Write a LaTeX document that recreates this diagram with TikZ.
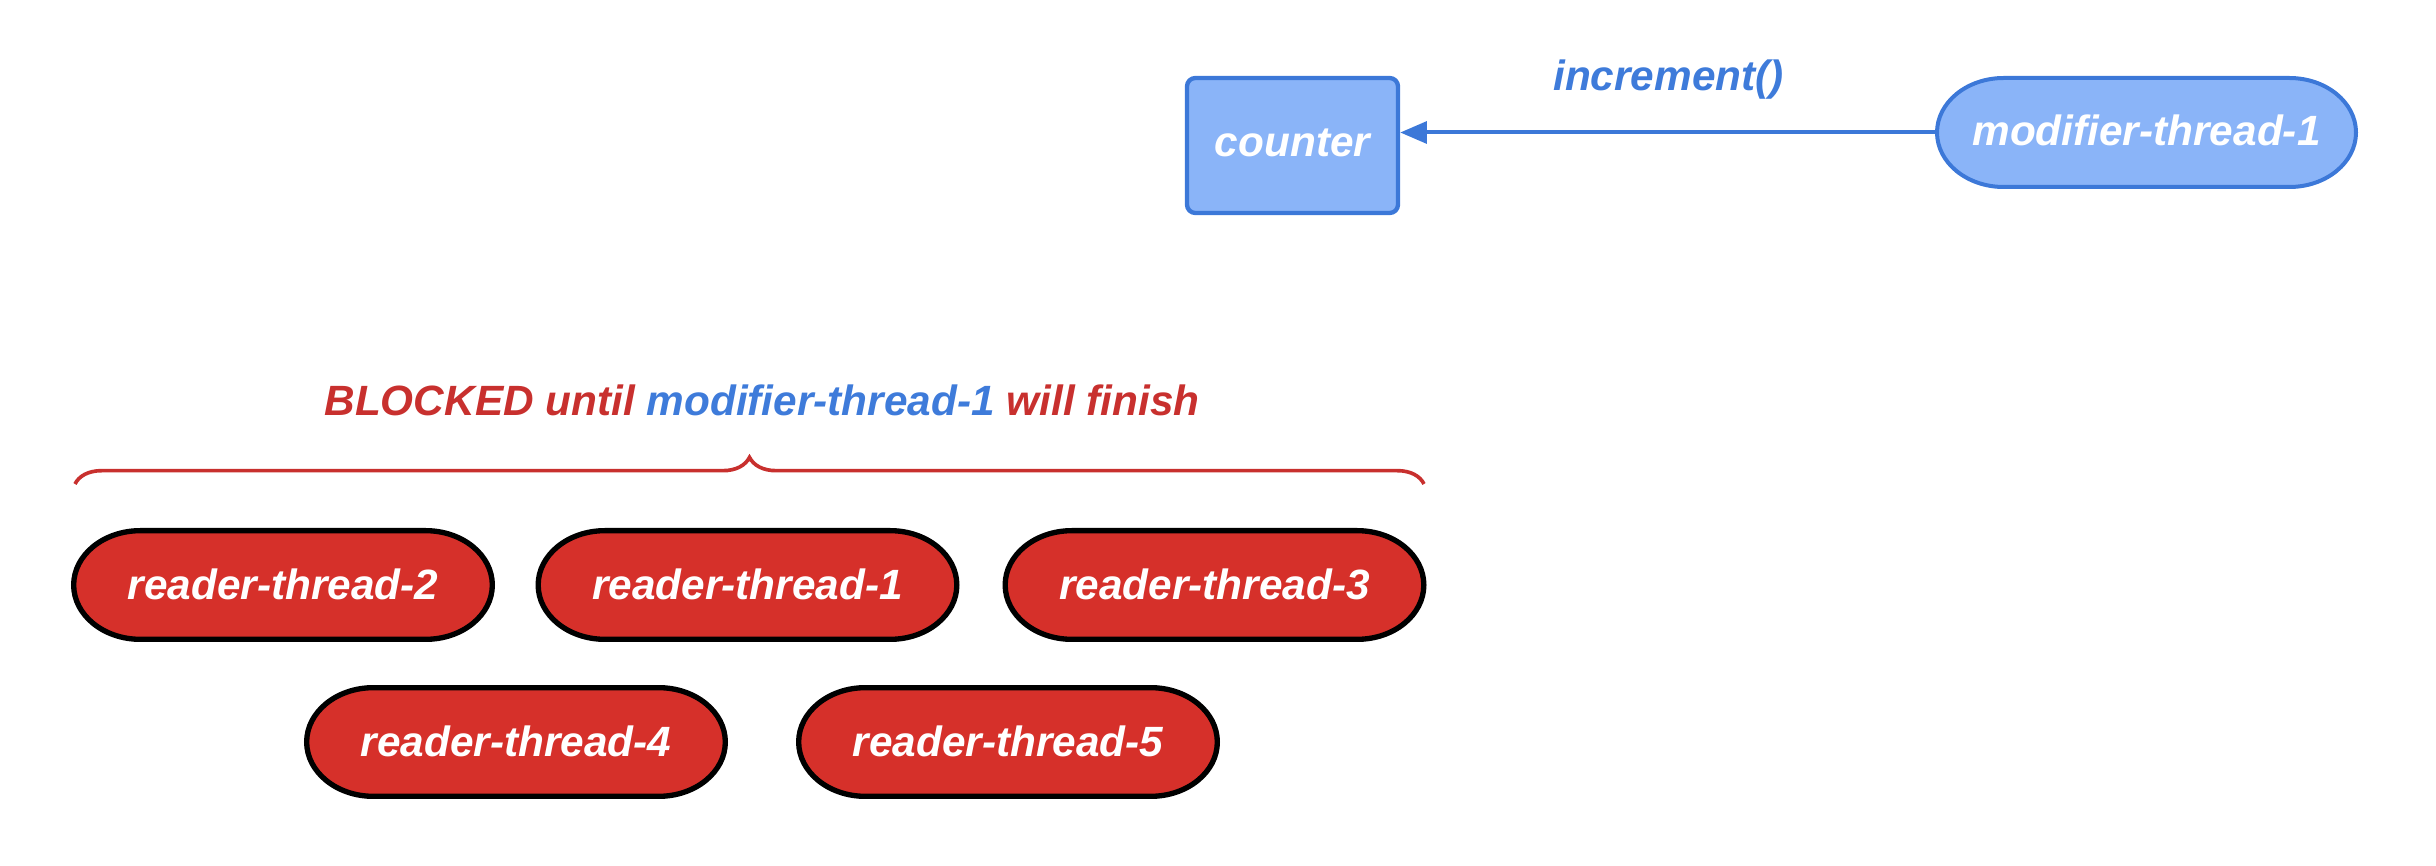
\documentclass[tikz,border=0pt]{standalone}
\usepackage{fontspec}
\setmainfont{Liberation Sans}
\usetikzlibrary{arrows.meta,decorations.pathreplacing}
\definecolor{boxblue}{HTML}{8AB4F8}
\definecolor{lineblue}{HTML}{3C78D8}
\definecolor{textblue}{HTML}{3E7BDA}
\definecolor{fillred}{HTML}{D6302A}
\definecolor{capred}{HTML}{C8302E}
\makeatletter
\pgfdeclareshape{ovalpill}{%
  \inheritsavedanchors[from=rectangle]%
  \inheritanchorborder[from=rectangle]%
  \inheritanchor[from=rectangle]{center}%
  \inheritanchor[from=rectangle]{north}%
  \inheritanchor[from=rectangle]{south}%
  \inheritanchor[from=rectangle]{east}%
  \inheritanchor[from=rectangle]{west}%
  \inheritanchor[from=rectangle]{north east}%
  \inheritanchor[from=rectangle]{north west}%
  \inheritanchor[from=rectangle]{south east}%
  \inheritanchor[from=rectangle]{south west}%
  \inheritanchor[from=rectangle]{text}%
  \inheritanchor[from=rectangle]{base}%
  \inheritanchor[from=rectangle]{mid}%
  \backgroundpath{%
    \southwest \pgf@xa=\pgf@x \pgf@ya=\pgf@y
    \northeast \pgf@xb=\pgf@x \pgf@yb=\pgf@y
    \pgf@yc=\pgf@yb \advance\pgf@yc by -\pgf@ya \pgf@yc=.5\pgf@yc
    \pgf@xc=20pt
    \pgfutil@tempdima=\pgf@xa \advance\pgfutil@tempdima by \pgf@xc
    \pgfutil@tempdimb=\pgf@xb \advance\pgfutil@tempdimb by -\pgf@xc
    \edef\pill@l{\the\pgfutil@tempdima}%
    \edef\pill@r{\the\pgfutil@tempdimb}%
    \edef\pill@t{\the\pgf@yb}%
    \edef\pill@b{\the\pgf@ya}%
    \edef\pill@rx{\the\pgf@xc}%
    \edef\pill@ry{\the\pgf@yc}%
    \pgfpathmoveto{\pgfqpoint{\pill@l}{\pill@t}}%
    \pgfpathlineto{\pgfqpoint{\pill@r}{\pill@t}}%
    \pgfpatharc{90}{-90}{\pill@rx and \pill@ry}%
    \pgfpathlineto{\pgfqpoint{\pill@l}{\pill@b}}%
    \pgfpatharc{270}{90}{\pill@rx and \pill@ry}%
    \pgfpathclose
  }%
}
\makeatother
\begin{document}
\begin{tikzpicture}[x=0.3pt,y=-0.3pt,
  lbl/.style={font=\fontsize{12.7}{15}\selectfont\bfseries\itshape},
  bluebox/.style={lbl, draw=lineblue, fill=boxblue, line width=1.3pt, rounded corners=2.5pt,
    text=white, minimum width=63.3pt, minimum height=40.5pt, inner sep=0pt},
  bluepill/.style={lbl, shape=ovalpill, draw=lineblue, fill=boxblue, line width=1.2pt,
    text=white, minimum width=124.5pt, minimum height=31.5pt, inner sep=0pt},
  redpill/.style={lbl, shape=ovalpill, draw=black, fill=fillred, line width=1.6pt,
    text=white, minimum width=124pt, minimum height=31pt, inner sep=0pt},
  callarrow/.style={draw=lineblue, line width=1.2pt, -{Triangle[length=8pt,width=6.5pt]}},
  bracestyle/.style={draw=capred, line width=1.1pt, decorate,
    decoration={brace, amplitude=8pt, aspect=0.5}}
]
\useasboundingbox (0,0) rectangle (2436,866);

\node[bluebox] (counter) at (1292.5,145.5) {\raisebox{1.4pt}{counter}};
\node[bluepill] (mod) at (2146.5,132.5) {\raisebox{1.4pt}{modifier-thread-1}};

\draw[callarrow] (mod.west) -- (mod.west -| counter.east)
  node[midway, yshift=16pt, lbl, text=textblue] (inc) {increment()};

\node[lbl] (caption) at (762,400) {{\color{capred}BLOCKED until} {\color{textblue}modifier-thread-1} {\color{capred}will finish}};

\coordinate (bl) at (75,484);
\coordinate (br) at (1424,484);
\draw[bracestyle] (bl) -- (br);

\node[redpill] (r2) at (283,585) {\raisebox{0.8pt}{reader-thread-2}};
\node[redpill] (r1) at (747.5,585) {\raisebox{0.8pt}{reader-thread-1}};
\node[redpill] (r3) at (1214.5,585) {\raisebox{0.8pt}{reader-thread-3}};
\node[redpill] (r4) at (516,742) {\raisebox{0.8pt}{reader-thread-4}};
\node[redpill] (r5) at (1008,742) {\raisebox{0.8pt}{reader-thread-5}};
\end{tikzpicture}
\end{document}
